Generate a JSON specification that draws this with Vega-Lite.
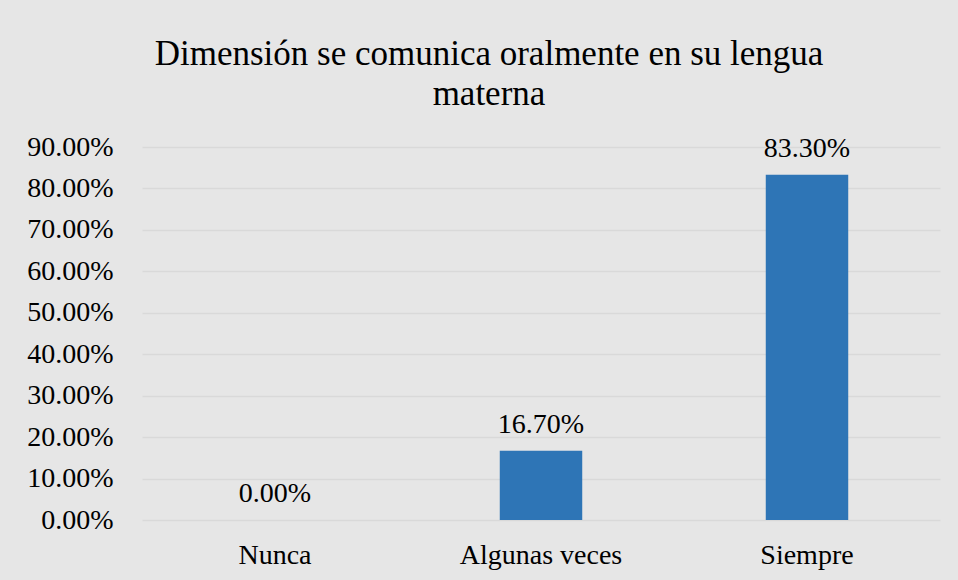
{
  "$schema": "https://vega.github.io/schema/vega-lite/v6.json",
  "autosize": {"type": "none"},
  "width": 798,
  "height": 373,
  "padding": {"left": 142, "top": 147, "right": 18, "bottom": 60},
  "background": "#e6e6e6",
  "title": {
    "text": ["Dimensión se comunica oralmente en su lengua", "materna"],
    "font": "Liberation Serif",
    "fontSize": 35,
    "fontWeight": "normal",
    "color": "#000000",
    "lineHeight": 40,
    "anchor": "middle",
    "dx": -52,
    "offset": 21
  },
  "data": {
    "values": [
      {"categoria": "Nunca", "porcentaje": 0.0},
      {"categoria": "Algunas veces", "porcentaje": 0.167},
      {"categoria": "Siempre", "porcentaje": 0.833}
    ]
  },
  "encoding": {
    "x": {
      "field": "categoria",
      "type": "nominal",
      "sort": null,
      "scale": {"paddingInner": 0.69, "paddingOuter": 0.345},
      "axis": {
        "title": null,
        "labelAngle": 0,
        "labelFont": "Liberation Serif",
        "labelFontSize": 28,
        "labelColor": "#000000",
        "labelPadding": 21,
        "ticks": false,
        "domain": false
      }
    },
    "y": {
      "field": "porcentaje",
      "type": "quantitative",
      "scale": {"domain": [0, 0.9], "nice": false},
      "axis": {
        "title": null,
        "format": ".2%",
        "values": [0, 0.1, 0.2, 0.3, 0.4, 0.5, 0.6, 0.7, 0.8, 0.9],
        "labelFont": "Liberation Serif",
        "labelFontSize": 28,
        "labelColor": "#000000",
        "labelPadding": 29,
        "ticks": false,
        "domain": false,
        "grid": true,
        "gridColor": "#d9d9d9",
        "gridWidth": 1.5
      }
    }
  },
  "layer": [
    {"mark": {"type": "bar", "color": "#2e75b6"}},
    {
      "mark": {
        "type": "text",
        "font": "Liberation Serif",
        "fontSize": 28,
        "color": "#000000",
        "baseline": "alphabetic",
        "dy": -18
      },
      "encoding": {
        "text": {"field": "porcentaje", "type": "quantitative", "format": ".2%"}
      }
    }
  ],
  "config": {
    "view": {"stroke": null}
  }
}
